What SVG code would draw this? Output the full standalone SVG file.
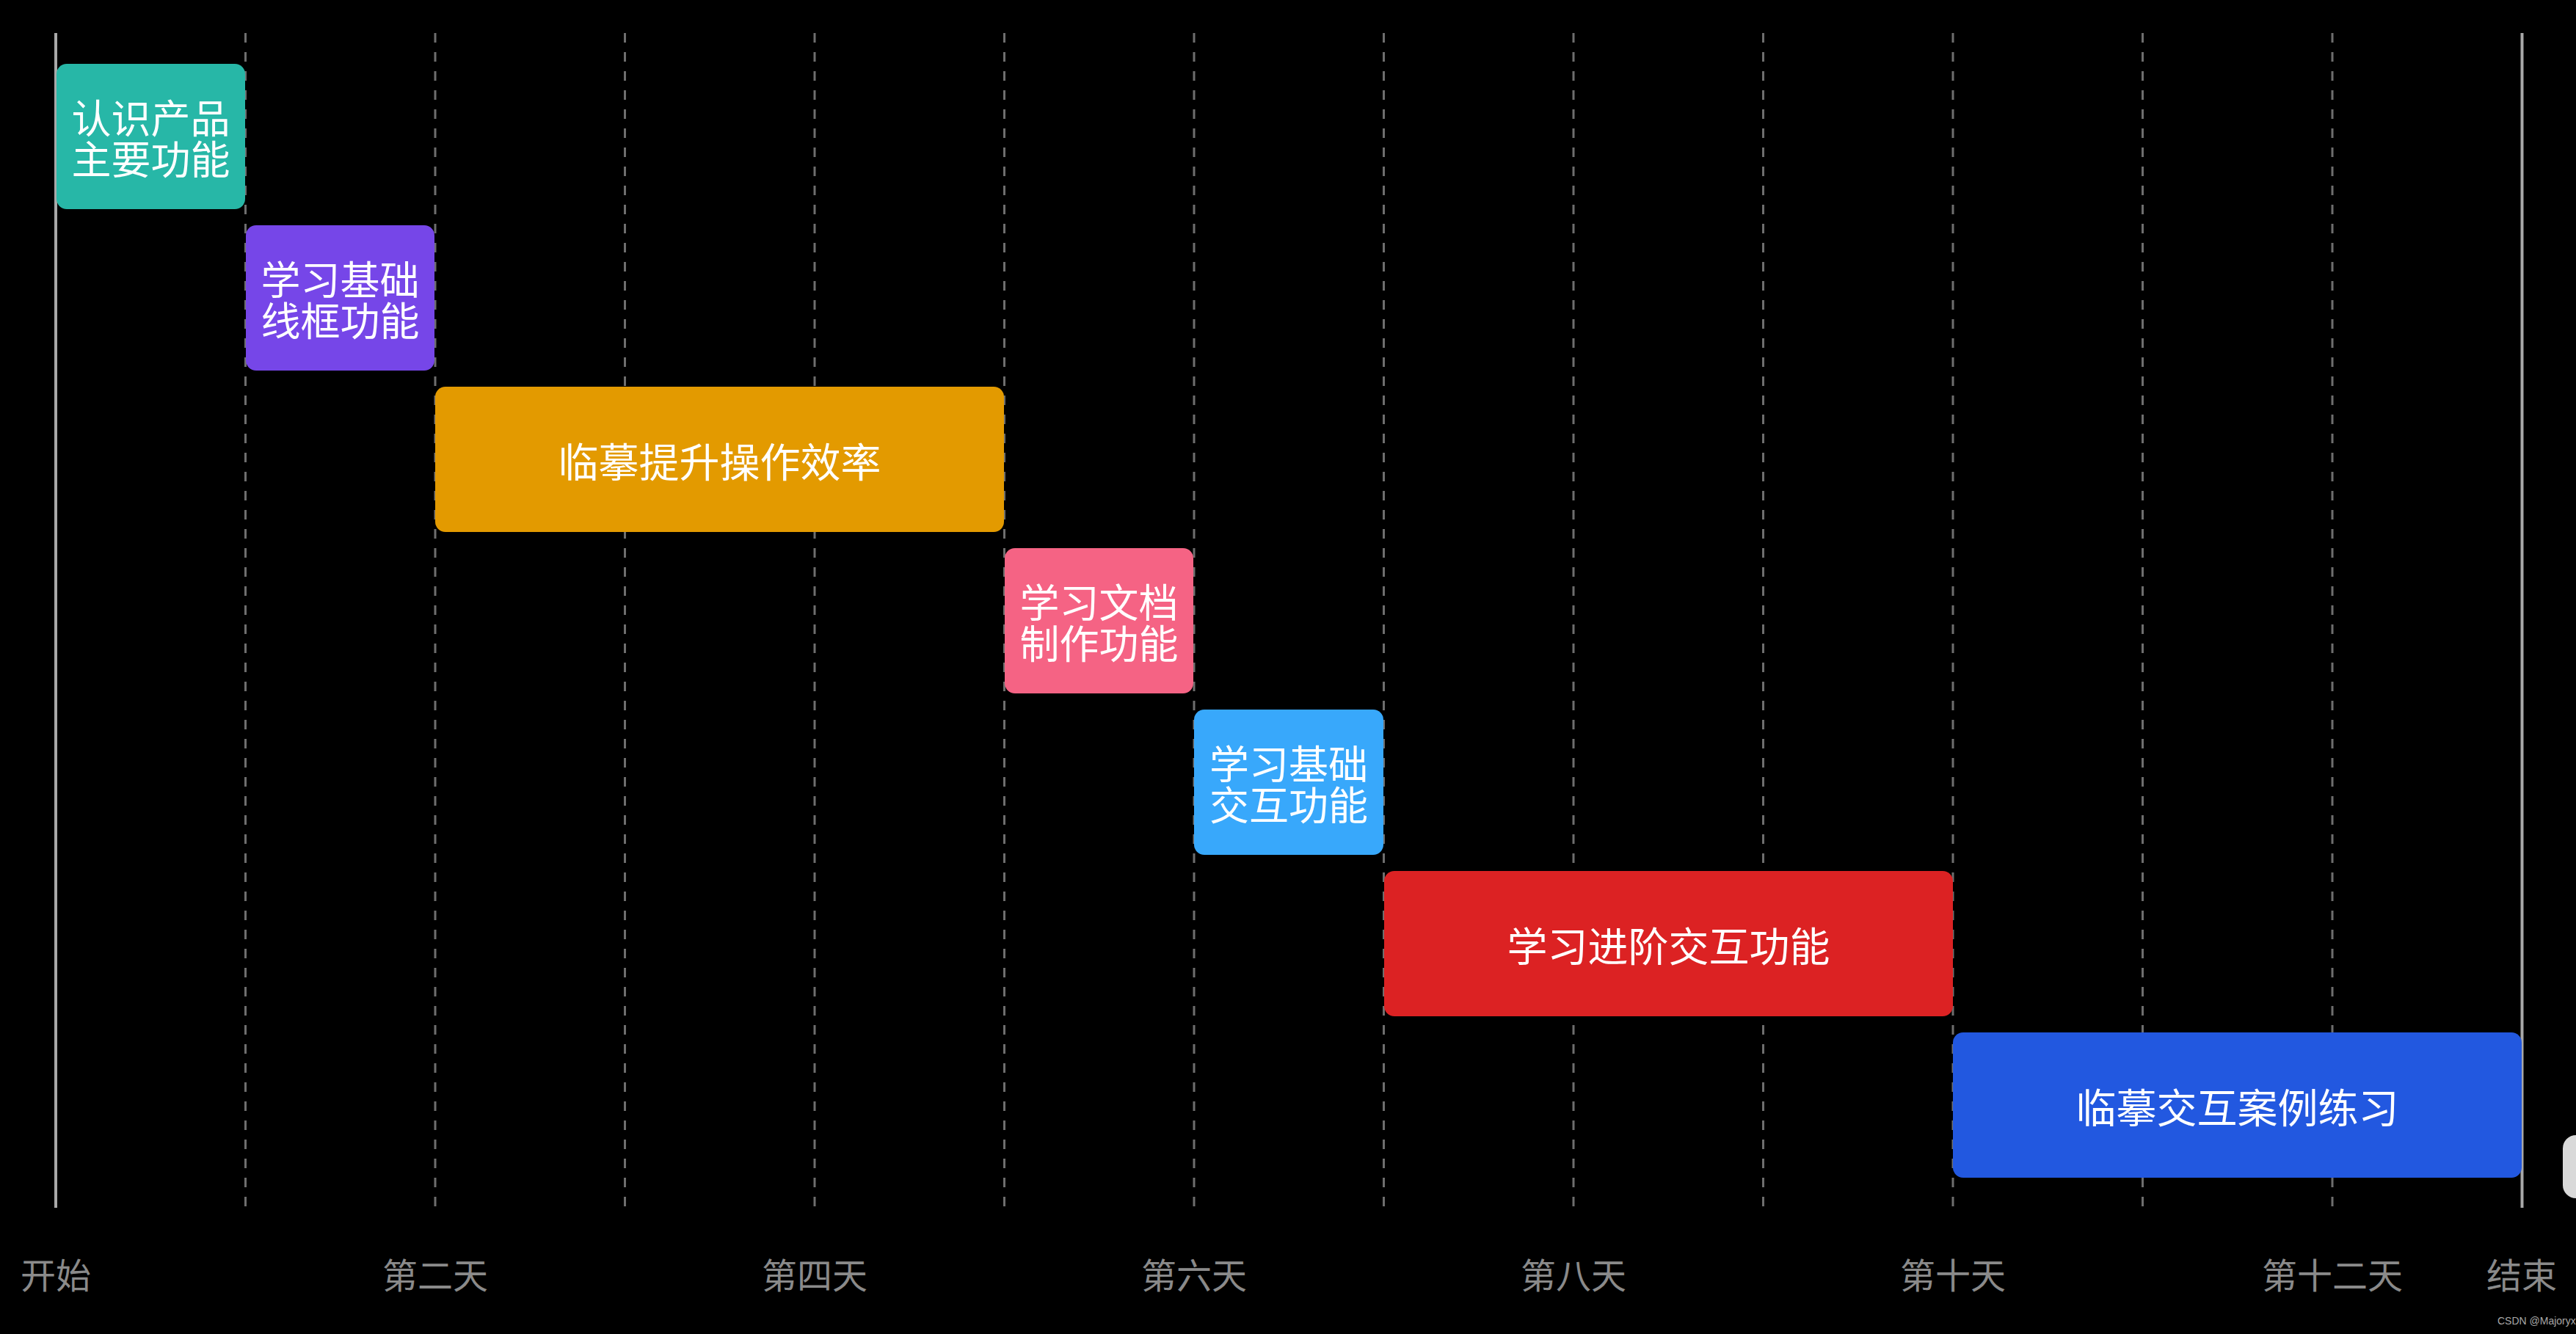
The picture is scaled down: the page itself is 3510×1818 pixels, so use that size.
<svg xmlns="http://www.w3.org/2000/svg" width="3510" height="1818" viewBox="0 0 3510 1818">
<style>
.grid{stroke:#6e6e6e;stroke-width:3;stroke-dasharray:13 13;fill:none}
.edge{stroke:#a8a8a8;stroke-width:4;fill:none}
.lbl{font-family:"Noto Sans CJK SC","Noto Sans",sans-serif;font-size:55px;fill:#ffffff;text-anchor:middle;dominant-baseline:central}
.lbl2{font-family:"Noto Sans CJK SC","Noto Sans",sans-serif;font-size:54px;fill:#ffffff;text-anchor:middle;dominant-baseline:central}
.axis{font-family:"Noto Sans CJK SC","Noto Sans",sans-serif;font-size:48px;fill:#8a8a8a;text-anchor:middle;dominant-baseline:central}
.wm{font-family:"Liberation Sans",Arial,sans-serif;font-size:14px;fill:#a8a8a8}
</style>
<rect x="0" y="0" width="3510" height="1818" fill="#000000"/>
<g id="grid">
<line class="edge" x1="76" y1="45" x2="76" y2="1646"/>
<line class="grid" x1="334.5" y1="45" x2="334.5" y2="1646"/>
<line class="grid" x1="593" y1="45" x2="593" y2="1646"/>
<line class="grid" x1="851.5" y1="45" x2="851.5" y2="1646"/>
<line class="grid" x1="1110" y1="45" x2="1110" y2="1646"/>
<line class="grid" x1="1368.5" y1="45" x2="1368.5" y2="1646"/>
<line class="grid" x1="1627" y1="45" x2="1627" y2="1646"/>
<line class="grid" x1="1885.5" y1="45" x2="1885.5" y2="1646"/>
<line class="grid" x1="2144" y1="45" x2="2144" y2="1646"/>
<line class="grid" x1="2402.5" y1="45" x2="2402.5" y2="1646"/>
<line class="grid" x1="2661" y1="45" x2="2661" y2="1646"/>
<line class="grid" x1="2919.5" y1="45" x2="2919.5" y2="1646"/>
<line class="grid" x1="3178" y1="45" x2="3178" y2="1646"/>
<line class="edge" x1="3436.5" y1="45" x2="3436.5" y2="1646"/>
</g>
<g id="connectors"></g>
<g id="task1">
<rect x="77" y="87" width="257" height="198" rx="14" fill="#27b7a7"/>
<text class="lbl2"><tspan x="205.5" y="158">认识产品</tspan><tspan x="205.5" y="214">主要功能</tspan></text>
</g>
<g id="task2">
<rect x="335" y="307" width="257" height="198" rx="14" fill="#7646e8"/>
<text class="lbl2"><tspan x="463.5" y="378">学习基础</tspan><tspan x="463.5" y="434">线框功能</tspan></text>
</g>
<g id="task3">
<rect x="593" y="527" width="775" height="198" rx="14" fill="#e39a00"/>
<text class="lbl" x="980.5" y="626">临摹提升操作效率</text>
</g>
<g id="task4">
<rect x="1369" y="747" width="257" height="198" rx="14" fill="#f56384"/>
<text class="lbl2"><tspan x="1497.5" y="818">学习文档</tspan><tspan x="1497.5" y="874">制作功能</tspan></text>
</g>
<g id="task5">
<rect x="1627" y="967" width="258" height="198" rx="14" fill="#38a8fb"/>
<text class="lbl2"><tspan x="1756" y="1038">学习基础</tspan><tspan x="1756" y="1094">交互功能</tspan></text>
</g>
<g id="task6">
<rect x="1886" y="1187" width="775" height="198" rx="14" fill="#dc2223"/>
<text class="lbl" x="2273.5" y="1286">学习进阶交互功能</text>
</g>
<g id="task7">
<rect x="2661" y="1407" width="775" height="198" rx="14" fill="#2258e0"/>
<text class="lbl" x="3048.5" y="1506">临摹交互案例练习</text>
</g>
<g id="axis">
<text class="axis" x="76" y="1735">开始</text>
<text class="axis" x="593" y="1735">第二天</text>
<text class="axis" x="1110" y="1735">第四天</text>
<text class="axis" x="1627" y="1735">第六天</text>
<text class="axis" x="2144" y="1735">第八天</text>
<text class="axis" x="2661" y="1735">第十天</text>
<text class="axis" x="3178" y="1735">第十二天</text>
<text class="axis" x="3436" y="1735">结束</text>
</g>
<rect x="3492" y="1547" width="60" height="86" rx="18" fill="#d9d9d9"/>
<text class="wm" x="3403" y="1805">CSDN @Majoryx</text>
</svg>
